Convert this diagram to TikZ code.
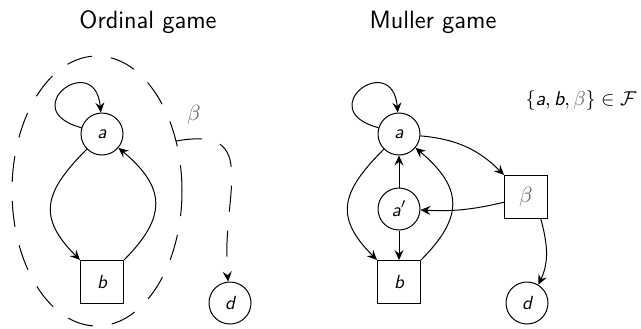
\documentclass[tikz,border=0pt]{standalone}
\usetikzlibrary{arrows.meta}
\newcommand\sv[1]{\mbox{\sffamily\itshape #1}}
\begin{document}
\begin{tikzpicture}[x=0.5pt,y=0.5pt,line width=0.5pt,
  gstate/.style={circle, draw, minimum size=21pt, inner sep=0pt,
    font=\fontsize{9.5}{11}\selectfont\sffamily\itshape},
  gplayer/.style={rectangle, draw, minimum size=21.5pt, inner sep=0pt,
    font=\fontsize{9.5}{11}\selectfont\sffamily\itshape},
  gtitle/.style={anchor=base, inner sep=0pt, font=\fontsize{12.5}{15}\selectfont\sffamily},
  edge/.style={-{Stealth[length=5pt,width=4.5pt,inset=1.8pt]}},
  region/.style={dash pattern=on 13pt off 9.5pt},
  fade/.style={text=black!62}]
\useasboundingbox (0,0) rectangle (641,328);

% ---- left: ordinal game ----
\node[gtitle] (tOrd) at (148,300) {Ordinal game};
\node[gstate] (aL) at (102,194) {a};
\node[gplayer] (bL) at (102,46) {b};
\node[gstate] (dL) at (230,25) {d};

\draw[region] (97,137) ellipse [x radius=42.5pt, y radius=67.5pt];
\node[fade, font=\fontsize{10.5}{12}\selectfont] (betaLbl) at (194,213) {$\beta$};
\coordinate (gate) at (176,187);

\draw[edge] (aL.163) .. controls +(-67,18) and +(-6,63) .. (aL.93);
\draw[edge] (aL) to[out=225,in=135,looseness=1.4] (bL);
\draw[edge] (bL) to[out=45,in=-40,looseness=1.4] (aL);
\draw[edge,region] (gate) to[out=10,in=95,looseness=1.5] (dL);

% ---- right: Muller game ----
\node[gtitle] (tMul) at (433,300) {Muller game};
\node[gstate] (aR) at (399,194) {a};
\node[gstate] (apR) at (399,119) {a$'$};
\node[gplayer] (bR) at (399,46) {b};
\node[gplayer, fade, font=\fontsize{10.5}{12}\selectfont] (betaR) at (526,131) {$\beta$};
\node[gstate] (dR) at (527,25) {d};
\node[font=\fontsize{10}{12}\selectfont] (cond) at (581,228)
  {$\{\sv{a}, \sv{b}, {\color{black!62}\beta}\} \in \mathcal{F}$};

\draw[edge] (aR.163) .. controls +(-67,18) and +(-6,63) .. (aR.93);
\draw[edge] (aR) to[out=225,in=135,looseness=1.4] (bR);
\draw[edge] (bR) to[out=45,in=-40,looseness=1.4] (aR);
\draw[edge] (apR) -- (aR);
\draw[edge] (apR) -- (bR);
\draw[edge] (betaR) to[bend left=8] (apR);
\draw[edge] (aR) to[out=-5,in=135] (betaR);
\draw[edge] (betaR.-56) to[out=-75,in=65] (dR.58);
\end{tikzpicture}
\end{document}
